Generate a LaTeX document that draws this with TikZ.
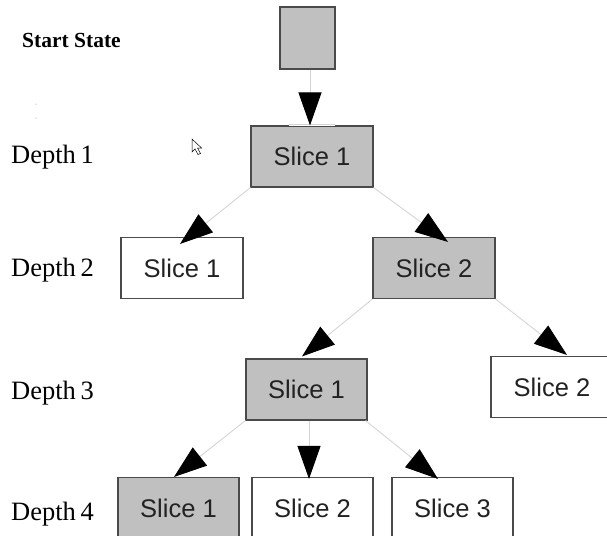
\documentclass[tikz,border=0pt]{standalone}
\usepackage{fontspec}
\setmainfont{Liberation Serif}
\newfontfamily\boxfont{Liberation Sans}
\usetikzlibrary{arrows.meta,calc}
\definecolor{statefill}{HTML}{C0C0C0}
\definecolor{stateedge}{HTML}{4A4A4A}
\definecolor{edgeline}{HTML}{D4D4D4}
\definecolor{boxtext}{HTML}{222222}
\tikzset{
  slicebox/.style={draw=stateedge, line width=1.1pt, fill=white, minimum width=122pt,
    minimum height=61pt, inner sep=0pt, text=boxtext,
    font=\boxfont\fontsize{25.5}{28}\selectfont},
  expanded/.style={slicebox, fill=statefill},
  depthlabel/.style={anchor=west, inner sep=0pt, font=\fontsize{26.5}{28}\selectfont},
  conn/.style={draw=edgeline, line width=0.9pt,
    -{Triangle[length=33pt,width=23pt,color=black]}, shorten >=0pt}
}
\begin{document}
\begin{tikzpicture}[x=1pt,y=-1pt]
  \useasboundingbox (0,0) rectangle (607,535);

  % depth labels
  \node[anchor=west, inner sep=0pt, font=\bfseries\fontsize{21.5}{24}\selectfont] (lstart) at (22,40) {Start State};
  \node[depthlabel] (l1) at (11,157) {Depth\hspace{-2pt} 1};
  \node[depthlabel] (l2) at (11,270) {Depth\hspace{-2pt} 2};
  \node[depthlabel] (l3) at (11,393) {Depth\hspace{-2pt} 3};
  \node[depthlabel] (l4) at (11,514) {Depth\hspace{-2pt} 4};

  % search tree
  \node[expanded, minimum width=55pt, minimum height=62pt] (start) at (307.5,38) {};
  \node[expanded] (d1)  at (312,156.5) {Slice 1};
  \node[slicebox] (d2a) at (182,268)   {Slice 1};
  \node[expanded] (d2b) at (434,268)   {Slice 2};
  \node[expanded, minimum width=121pt] (d3a) at (306.5,389.5) {Slice 1};
  \node[slicebox] (d3b) at (552,387)   {Slice 2};
  \node[expanded, minimum width=121pt] (d4a) at (178.5,508) {Slice 1};
  \node[slicebox, minimum width=121pt] (d4b) at (312.5,508) {Slice 2};
  \node[slicebox, minimum width=121pt] (d4c) at (452.5,508) {Slice 3};

  % highlight strip on top of the first slice
  \fill[white] ($(d1.north)+(-23,-1)$) rectangle ($(d1.north)+(23,1)$);
  \draw[edgeline, line width=0.5pt] ($(d1.north)+(-23,-1.5)$) -- ($(d1.north)+(23,-1.5)$);

  % connectors
  \draw[conn] (start.south -| {(310,0)}) -- ($(d1.north)+(-2,0)$);
  \draw[conn] (d1.south west) -- ($(d2a.north)+(-2,7)$);
  \draw[conn] (d1.south east) -- ($(d2b.north)+(14,5)$);
  \draw[conn] (d2b.south west) -- ($(d3a.north)+(-4.5,-2)$);
  \draw[conn] (d2b.south east) -- ($(d3b.north)+(15,-1)$);
  \draw[conn] (d3a.south west) -- ($(d4a.north)+(-4.5,0)$);
  \draw[conn] ($(d3a.south)+(2.5,0)$) -- ($(d4b.north)+(-3.5,2)$);
  \draw[conn] ($(d3a.south east)+(-2,0)$) -- ($(d4c.north)+(-14.5,2)$);

  % mouse pointer
  \draw[fill=white, line width=0.5pt, line join=miter]
    (192,139) -- (192,152) -- (195,149) -- (198,154.5) -- (200.5,153.5) -- (197.5,148) -- (201.5,148) -- cycle;

  % specks
  \fill[gray] (36,104) circle (0.5);
  \fill[gray] (36,118) circle (0.5);
\end{tikzpicture}
\end{document}
